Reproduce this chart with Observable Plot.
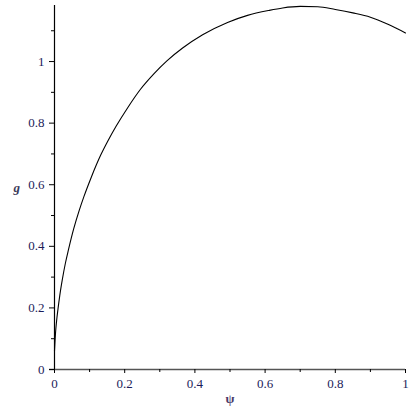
<!DOCTYPE html>
<html>
<head>
<meta charset="utf-8">
<script src="https://cdn.jsdelivr.net/npm/d3@7"></script>
<script src="https://cdn.jsdelivr.net/npm/@observablehq/plot@0.6"></script>
<style>
  html, body { margin: 0; padding: 0; background: white; }
  svg text { font-family: "Liberation Serif", "Times New Roman", serif; }
</style>
</head>
<body>
<div id="chart"></div>
<script>
const psi = [0, 0.003, 0.006, 0.01, 0.015, 0.022, 0.031, 0.04, 0.055, 0.07, 0.084, 0.104, 0.132, 0.152, 0.175, 0.209, 0.245, 0.283, 0.321, 0.365, 0.422, 0.493, 0.55, 0.611, 0.65, 0.7, 0.75, 0.8, 0.85, 0.9, 0.95, 1.0];
const g   = [0.06, 0.12, 0.158, 0.197, 0.24, 0.29, 0.345, 0.39, 0.458, 0.515, 0.562, 0.622, 0.697, 0.742, 0.789, 0.851, 0.91, 0.96, 1.003, 1.044, 1.087, 1.127, 1.15, 1.166, 1.174, 1.179, 1.178, 1.169, 1.158, 1.144, 1.121, 1.093];
const majorTicks = [0, 0.2, 0.4, 0.6, 0.8, 1];
const yMajorTicks = [0, 0.2, 0.4, 0.6, 0.8, 1];
const yMinorTicks = [0.1, 0.3, 0.5, 0.7, 0.9, 1.1];
const xMinorTicks = [0.1, 0.3, 0.5, 0.7, 0.9];
const xLabel = "ψ";
const yLabel = "g";

const data = psi.map((p, i) => ({psi: p, g: g[i]}));
const labelColor = "#1c1c5a";
const serif = "'Liberation Serif', 'Times New Roman', serif";

const chart = Plot.plot({
  width: 415,
  height: 415,
  marginLeft: 54,
  marginRight: 10,
  marginTop: 5,
  marginBottom: 46,
  style: {fontFamily: serif, fontSize: "13px", background: "white", color: "black"},
  x: {domain: [0, 1], axis: null},
  y: {domain: [0, 1.182], axis: null},
  marks: [
    Plot.ruleY([0], {stroke: "#555", strokeWidth: 1.5, insetLeft: -5}),
    Plot.ruleX([0], {stroke: "black", strokeWidth: 1.2}),
    Plot.axisY(yMajorTicks, {label: null, tickSize: 5, tickPadding: 5, tickFormat: d => String(d), fill: labelColor, stroke: "black", fontFamily: serif}),
    Plot.axisY(yMinorTicks, {label: null, tickSize: 3, tickFormat: () => "", stroke: "black"}),
    Plot.axisX(majorTicks, {label: null, tickSize: 4, tickPadding: 5, tickFormat: d => String(d), fill: labelColor, stroke: "black", fontFamily: serif}),
    Plot.axisX(xMinorTicks, {label: null, tickSize: 3, tickFormat: () => "", stroke: "black"}),
    Plot.line(data, {x: "psi", y: "g", stroke: "black", strokeWidth: 1.1, curve: "monotone-x"}),
    Plot.text([yLabel], {frameAnchor: "left", dx: -41, fontStyle: "italic", fontWeight: "bold", fill: "#3a3a5a", fontSize: 13, fontFamily: serif}),
    Plot.text([xLabel], {frameAnchor: "bottom", dy: 33, fontWeight: "bold", fill: "#4a3a6a", fontSize: 13, fontFamily: serif})
  ]
});
document.getElementById("chart").appendChild(chart);
</script>
</body>
</html>
